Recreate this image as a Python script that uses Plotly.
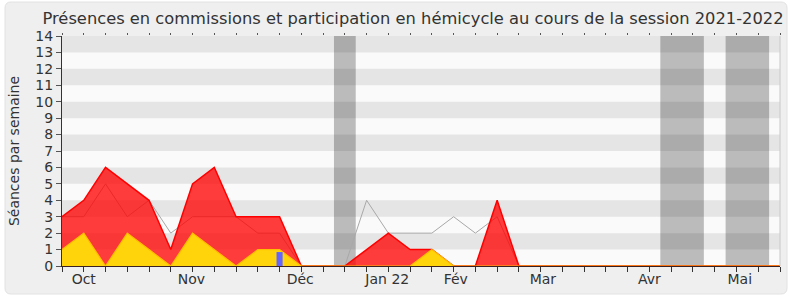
import plotly.graph_objects as go

# ---- data (one value per week, week index 0..33) ----
weeks = list(range(34))
commission = [3, 4, 6, 5, 4, 1, 5, 6, 3, 3, 3, 0, 0, 0, 1, 2, 1, 1, 0, 0, 4, 0,
              0, 0, 0, 0, 0, 0, 0, 0, 0, 0, 0, 0]
hemicycle = [1, 2, 0, 2, 1, 0, 2, 1, 0, 1, 1, 0, 0, 0, 0, 0, 0, 1, 0, 0, 0, 0,
             0, 0, 0, 0, 0, 0, 0, 0, 0, 0, 0, 0]
moyenne = [3, 3, 5, 3, 4, 2, 3, 3, 3, 2, 2, 0, 0, 0, 4, 2, 2, 2, 3, 2, 3, 0,
           0, 0, 0, 0, 0, 0, 0, 0, 0, 0, 0, 0]
questions = [0, 0, 0, 0, 0, 0, 0, 0, 0, 0, 0.85, 0, 0, 0, 0, 0, 0, 0, 0, 0, 0, 0,
             0, 0, 0, 0, 0, 0, 0, 0, 0, 0, 0, 0]
vacances = [(12.5, 13.5), (27.5, 29.5), (30.5, 32.5)]
month_pos = [1.0, 5.95, 10.95, 14.95, 18.1, 22.1, 27.0, 31.15]
month_labels = ["Oct", "Nov", "Déc", "Jan 22", "Fév", "Mar", "Avr", "Mai"]
title = "Présences en commissions et participation en hémicycle au cours de la session 2021-2022"

W, H = 790, 300
L, R, T, B = 62, 10, 36, 34
PW, PH = W - L - R, H - T - B
FONT = "DejaVu Sans"

def px(x):
    return (x - L) / PW

def py(y):
    return (H - B - y) / PH

fig = go.Figure()

fig.add_trace(go.Scatter(x=weeks, y=moyenne, mode="lines",
                         line=dict(color="#a8a8a8", width=1), hoverinfo="skip"))
fig.add_trace(go.Scatter(x=weeks, y=commission, mode="lines", fill="tozeroy",
                         fillcolor="rgba(255,0,0,0.76)",
                         line=dict(color="#ff0000", width=1.5), hoverinfo="skip"))
fig.add_trace(go.Scatter(x=weeks, y=hemicycle, mode="lines", fill="tozeroy",
                         fillcolor="rgb(255,212,10)",
                         line=dict(color="rgb(255,190,0)", width=1.2), hoverinfo="skip"))
# blue bars on overlaying axis so they are drawn above the filled areas
fig.add_trace(go.Bar(x=weeks, y=questions, width=0.28, xaxis="x2",
                     marker=dict(color="#6464ff", line=dict(width=0)), hoverinfo="skip"))

shapes = []
# rounded frame
x0, y0, x1, y1, r = px(5), py(2), px(787), py(294), 6
rx, ry = r / PW, r / PH
path = (f"M {x0+rx},{y0} L {x1-rx},{y0} Q {x1},{y0} {x1},{y0-ry} "
        f"L {x1},{y1+ry} Q {x1},{y1} {x1-rx},{y1} L {x0+rx},{y1} "
        f"Q {x0},{y1} {x0},{y1+ry} L {x0},{y0-ry} Q {x0},{y0} {x0+rx},{y0} Z")
shapes.append(dict(type="path", path=path, xref="paper", yref="paper", layer="below",
                   fillcolor="#efefef", line=dict(color="#e2e2e2", width=1)))
# plot background
shapes.append(dict(type="rect", xref="paper", yref="y", x0=0, x1=1, y0=0, y1=14,
                   layer="below", fillcolor="#fafafa", line=dict(width=0)))
# horizontal bands
for k in range(1, 14, 2):
    shapes.append(dict(type="rect", xref="paper", yref="y", x0=0, x1=1, y0=k, y1=k + 1,
                       layer="below", fillcolor="#e5e5e5", line=dict(width=0)))
# vacation bands
for a, b in vacances:
    shapes.append(dict(type="rect", xref="x", yref="y", x0=a, x1=b, y0=0, y1=14,
                       layer="below", fillcolor="rgba(0,0,0,0.25)", line=dict(width=0)))
# right border line of plot
shapes.append(dict(type="line", xref="paper", yref="paper", x0=1, x1=1, y0=0, y1=1,
                   line=dict(color="#c8c8c8", width=1)))

fig.update_layout(
    width=W, height=H,
    margin=dict(l=L, r=R, t=T, b=B),
    paper_bgcolor="white",
    plot_bgcolor="#fafafa",
    showlegend=False,
    barmode="overlay",
    shapes=shapes,
    font=dict(family=FONT, color="#333"),
    title=dict(text=title, font=dict(family=FONT, size=16.3, color="#333"),
               x=px(413), xref="paper", xanchor="center",
               y=1 - 18 / H, yref="container", yanchor="middle"),
    xaxis=dict(range=[0, 33], tickvals=month_pos, ticktext=month_labels, ticks="",
               showgrid=False, zeroline=False, showline=True, linecolor="#3a2020",
               linewidth=1, tickfont=dict(size=14, color="#333", family=FONT)),
    xaxis2=dict(range=[0, 33], overlaying="x", anchor="y", side="bottom",
                tickvals=weeks, ticks="outside", ticklen=5, tickcolor="#333",
                showticklabels=False, showgrid=False, zeroline=False, showline=False),
    xaxis3=dict(range=[0, 33], overlaying="x", anchor="y", side="top",
                tickvals=weeks, ticks="outside", ticklen=2, tickcolor="#555",
                showticklabels=False, showgrid=False, zeroline=False, showline=False),
    yaxis=dict(range=[0, 14], dtick=1, tick0=0, ticks="outside", ticklen=5,
               tickcolor="#555", showgrid=False, zeroline=False, showline=True,
               linecolor="#333", linewidth=1,
               tickfont=dict(size=14, color="#333", family=FONT),
               title=dict(text="Séances par semaine", font=dict(size=14, color="#333", family=FONT),
                          standoff=12)),
)
fig.add_trace(go.Scatter(x=[0], y=[0], xaxis="x3", mode="markers", marker=dict(opacity=0),
                         hoverinfo="skip"))

fig.write_html("out.html")
